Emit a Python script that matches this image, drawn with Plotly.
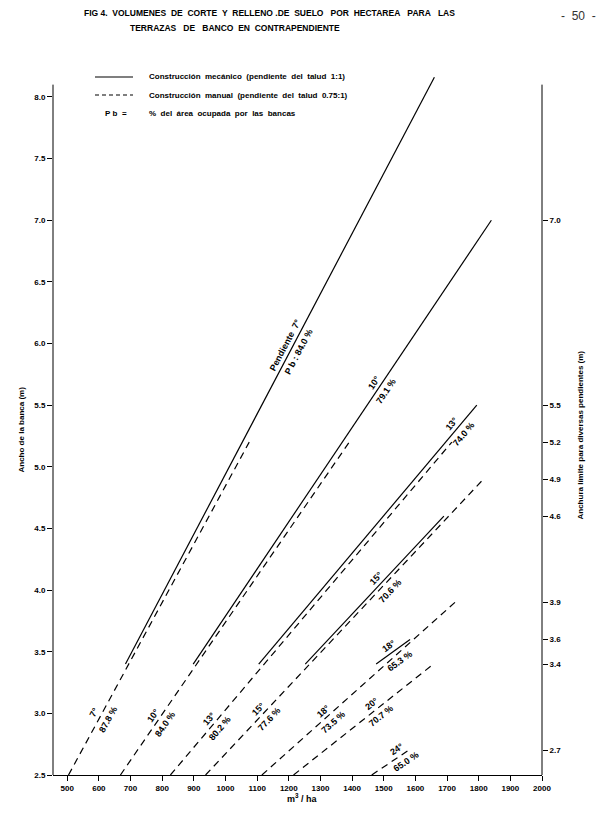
import math
import plotly.graph_objects as go

# ---------------- data ----------------
# Mechanical construction (talud 1:1) - solid lines
mech_slopes = ["7°", "10°", "13°", "15°", "18°"]
mech_pb = ["84.0 %", "79.1 %", "74.0 %", "70.6 %", "65.3 %"]
mech_x0 = [684, 898, 1105, 1252, 1476]
mech_y0 = [3.4, 3.4, 3.4, 3.4, 3.4]
mech_x1 = [1660, 1840, 1794, 1690, 1583]
mech_y1 = [8.16, 7.0, 5.5, 4.6, 3.6]

# Manual construction (talud 0.75:1) - dashed lines
man_slopes = ["7°", "10°", "13°", "15°", "18°", "20°", "24°"]
man_pb = ["87.8 %", "84.0 %", "80.2 %", "77.6 %", "73.5 %", "70.7 %", "65.0 %"]
man_x0 = [504, 668, 826, 937, 1115, 1215, 1462]
man_y0 = [2.5, 2.5, 2.5, 2.5, 2.5, 2.5, 2.5]
man_x1 = [1075, 1391, 1715, 1815, 1725, 1657, 1578]
man_y1 = [5.2, 5.2, 5.2, 4.9, 3.9, 3.4, 2.7]

x_ticks = [500, 600, 700, 800, 900, 1000, 1100, 1200, 1300, 1400, 1500,
           1600, 1700, 1800, 1900, 2000]
y_ticks = [2.5, 3.0, 3.5, 4.0, 4.5, 5.0, 5.5, 6.0, 6.5, 7.0, 7.5, 8.0]
limit_ticks = [2.7, 3.4, 3.6, 3.9, 4.6, 4.9, 5.2, 5.5, 7.0]

# height (m) along each line where its pair of labels sits
mech_label_y = [5.96, 5.65, 5.31, 4.06, 3.50]
man_label_y = [2.98, 2.95, 2.92, 3.00, 2.98, 3.03, 2.66]
# pixel gap of the lower label (clears the companion dashed line)
mech_pb_gap = [8, 8, 9, 12, 12]

# ---------------- layout geometry ----------------
W, H = 600, 821
ML, MR, MT, MB = 53, 58, 76, 46
XR = [455, 2000]
YR = [2.5, 8.17]
pw = W - ML - MR
ph = H - MT - MB
px_per_x = pw / (XR[1] - XR[0])
px_per_y = ph / (YR[1] - YR[0])


def pp(px, py):
    """pixel -> paper coordinates"""
    return (px - ML) / pw, (H - MB - py) / ph


FONT = "Liberation Sans"
fig = go.Figure()

for i in range(len(mech_slopes)):
    fig.add_trace(go.Scatter(x=[mech_x0[i], mech_x1[i]], y=[mech_y0[i], mech_y1[i]],
                             mode="lines", line=dict(color="black", width=1.2),
                             showlegend=False, hoverinfo="skip"))
for i in range(len(man_slopes)):
    fig.add_trace(go.Scatter(x=[man_x0[i], man_x1[i]], y=[man_y0[i], man_y1[i]],
                             mode="lines", line=dict(color="black", width=1.2, dash="7px,5px"),
                             showlegend=False, hoverinfo="skip"))
fig.add_trace(go.Scatter(x=[None], y=[None], yaxis="y2", showlegend=False, hoverinfo="skip"))

ann = []
lab_font = dict(family=FONT, size=9, color="black", weight="bold")


def line_labels(x0, y0, x1, y1, ly, t_up, t_down, d_up=7, d_down=8):
    dxp = (x1 - x0) * px_per_x
    dyp = (y1 - y0) * px_per_y
    L = math.hypot(dxp, dyp)
    ux, uy = dxp / L, dyp / L
    ang = -math.degrees(math.atan2(dyp, dxp))
    lx = x0 + (ly - y0) * (x1 - x0) / (y1 - y0)
    nx, ny = -uy, ux  # upper-left normal (screen, y up)
    ann.append(dict(x=lx, y=ly, text=t_up, textangle=ang, showarrow=False, font=lab_font,
                    xshift=d_up * nx, yshift=d_up * ny))
    ann.append(dict(x=lx, y=ly, text=t_down, textangle=ang, showarrow=False, font=lab_font,
                    xshift=-d_down * nx, yshift=-d_down * ny))


for i in range(len(mech_slopes)):
    t1 = ("Pendiente\u00a0\u00a0" + mech_slopes[i]) if i == 0 else mech_slopes[i]
    t2 = ("P b : " + mech_pb[i]) if i == 0 else mech_pb[i]
    line_labels(mech_x0[i], mech_y0[i], mech_x1[i], mech_y1[i], mech_label_y[i], t1, t2,
                d_down=mech_pb_gap[i])
for i in range(len(man_slopes)):
    line_labels(man_x0[i], man_y0[i], man_x1[i], man_y1[i], man_label_y[i],
                man_slopes[i], man_pb[i])

S = "\u00a0"
title_font = dict(family=FONT, size=8.5, color="black", weight="bold")
x, y = pp(82, 13)
ann.append(dict(xref="paper", yref="paper", x=x, y=y, xanchor="left", yanchor="middle",
                showarrow=False, font=title_font,
                text=f"FIG 4.{S}{S}VOLUMENES{S}{S}DE{S}{S}CORTE{S}{S}Y{S}{S}RELLENO{S}.DE{S}{S}SUELO{S}{S}{S}POR{S}{S}HECTAREA{S}{S}{S}PARA{S}{S}{S}LAS"))
x, y = pp(128, 28)
ann.append(dict(xref="paper", yref="paper", x=x, y=y, xanchor="left", yanchor="middle",
                showarrow=False, font=title_font,
                text=f"TERRAZAS{S}{S}{S}DE{S}{S}{S}BANCO{S}{S}EN{S}{S}CONTRAPENDIENTE"))
x, y = pp(598, 16)
ann.append(dict(xref="paper", yref="paper", x=x, y=y, xanchor="right", yanchor="middle",
                showarrow=False, font=dict(family=FONT, size=12, color="#333"),
                text=f"-{S}{S}50{S}{S}-"))

# legend
leg_font = dict(family=FONT, size=8, color="black", weight="bold")
shapes = []
for py, dash in [(77, "solid"), (95, "4px,3px")]:
    x0, y0 = pp(95, py)
    x1, _ = pp(133, py)
    shapes.append(dict(type="line", xref="paper", yref="paper", x0=x0, x1=x1, y0=y0, y1=y0,
                       line=dict(color="black", width=1.2, dash=dash)))
for py, txt in [(77, f"Construcción{S}{S}mecánico{S}{S}(pendiente{S}{S}del{S}{S}talud{S}{S}1:1)"),
                (95, f"Construcción{S}{S}manual{S}{S}(pendiente{S}{S}del{S}{S}talud{S}{S}0.75:1)"),
                (113, f"%{S}{S}del{S}{S}área{S}{S}ocupada{S}{S}por{S}{S}las{S}{S}bancas")]:
    x, y = pp(147, py)
    ann.append(dict(xref="paper", yref="paper", x=x, y=y, xanchor="left", yanchor="middle",
                    showarrow=False, font=leg_font, text=txt))
x, y = pp(133, 113)
ann.append(dict(xref="paper", yref="paper", x=x, y=y, xanchor="right", yanchor="middle",
                showarrow=False, font=leg_font, text=f"P{S}b{S}{S}={S}{S}"))

# axis titles
ax_font = dict(family=FONT, size=8, color="black", weight="bold")
x, y = pp(14, 430)
ann.append(dict(xref="paper", yref="paper", x=x, y=y, textangle=-90, showarrow=False,
                font=ax_font, text="Ancho de la banca (m)"))
x, y = pp(586, 435)
ann.append(dict(xref="paper", yref="paper", x=x, y=y, textangle=-90, showarrow=False,
                font=ax_font, text="Anchura límite para diversas pendientes (m)"))
x, y = pp(302, 806)
ann.append(dict(xref="paper", yref="paper", x=x, y=y, showarrow=False,
                font=dict(family=FONT, size=9, color="black", weight="bold"),
                text="m<sup>3</sup> / ha"))

# vertical axis lines (stop at 8.1 like the original frame)
for xp in (0, 1):
    shapes.append(dict(type="line", xref="paper", yref="y", x0=xp, x1=xp, y0=2.5, y1=8.1,
                       line=dict(color="black", width=1)))

tick_font = dict(family=FONT, size=8, color="black", weight="bold")
fig.update_layout(
    width=W, height=H,
    margin=dict(l=ML, r=MR, t=MT, b=MB),
    paper_bgcolor="white", plot_bgcolor="white",
    showlegend=False,
    xaxis=dict(range=XR, tickvals=x_ticks, ticktext=[str(v) for v in x_ticks],
               ticks="outside", ticklen=5, tickcolor="black", showline=True,
               linecolor="black", linewidth=1, showgrid=False, zeroline=False,
               tickfont=tick_font),
    yaxis=dict(range=YR, tickvals=y_ticks, ticktext=[f"{v:.1f}" for v in y_ticks],
               ticks="outside", ticklen=5, tickcolor="black", showline=False,
               showgrid=False, zeroline=False, tickfont=tick_font),
    yaxis2=dict(range=YR, overlaying="y", side="right", tickvals=limit_ticks,
                ticktext=[f"{v:.1f}" for v in limit_ticks], ticks="outside", ticklen=5,
                tickcolor="black", showline=False, showgrid=False, zeroline=False,
                tickfont=tick_font),
    annotations=ann,
    shapes=shapes,
)

fig.write_html("out.html", config={"displayModeBar": False},
               post_script="document.body.style.margin='0';")
